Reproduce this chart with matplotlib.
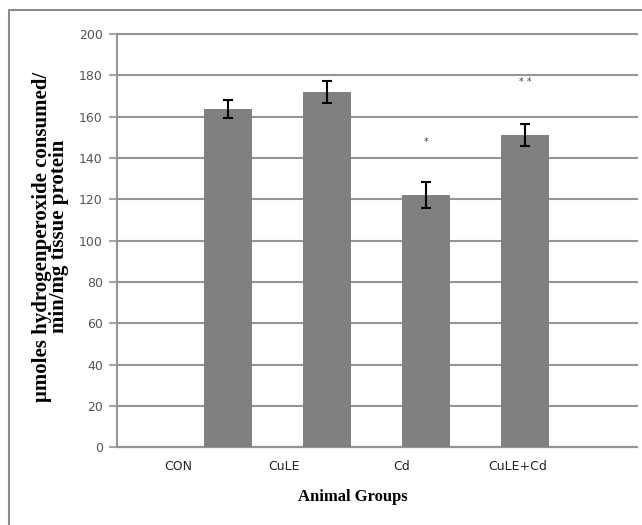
import matplotlib
matplotlib.use("Agg")
import matplotlib.pyplot as plt
from matplotlib.patches import Rectangle

# values
groups = ["CON", "CuLE", "Cd", "CuLE+Cd"]
means = [163.8, 171.9, 122.2, 151.2]
errs = [4.4, 5.2, 6.2, 5.3]
marks = ["*", "* *"]
mark_heights = [148, 177]
yticks = list(range(0, 201, 20))

# the bars and the category labels are not aligned in the original
bar_pos = [1, 2, 3, 4]
label_pos = [0.495, 1.566, 2.758, 3.93]
mark_pos = [3, 4]

fig = plt.figure(figsize=(6.42, 5.25), dpi=100)
ax = fig.add_axes([0.1818, 0.148, 0.8102, 0.787])

ax.bar(bar_pos, means, width=0.49, color="#808080", zorder=3)
ax.errorbar(bar_pos, means, yerr=errs, fmt="none", ecolor="black",
            elinewidth=1.5, capsize=3.5, capthick=1.5, zorder=4)

for x, y, m in zip(mark_pos, mark_heights, marks):
    ax.text(x, y, m, ha="center", va="center", fontsize=7, color="#444444")

ax.set_xlim(-0.124, 5.13)
ax.set_ylim(0, 200)
ax.set_yticks(yticks)
ax.set_xticks(label_pos)
ax.set_xticklabels(groups)
ax.grid(axis="y", color="#959595", linewidth=1.5, zorder=0)
for gl in ax.get_ygridlines():
    gl.set_clip_on(False)

for s in ["top", "right"]:
    ax.spines[s].set_visible(False)
for s in ["left", "bottom"]:
    ax.spines[s].set_color("#959595")
    ax.spines[s].set_linewidth(1.5)

ax.tick_params(axis="y", length=6, width=1.2, color="#959595",
               labelsize=9, labelcolor="#555555", pad=4)
ax.tick_params(axis="x", length=0, labelsize=9, labelcolor="#222222", pad=9)
for lab in ax.get_xticklabels() + ax.get_yticklabels():
    lab.set_fontfamily("Liberation Sans Narrow")

ax.set_xlabel("Animal Groups", fontfamily="Liberation Serif",
              fontweight="bold", fontsize=12)
ax.xaxis.set_label_coords(0.454, -0.1)
ax.set_ylabel("\u03bcmoles hydrogenperoxide consumed/\nmin/mg tissue protein",
              fontfamily="Liberation Serif", fontweight="bold", fontsize=15,
              linespacing=0.8)
ax.yaxis.set_label_coords(-0.092, 0.51)

# chart area border (only top and left show in the crop)
fig.patches.append(Rectangle((9 / 642, -0.05), 1.1, 1 - 10 / 525 + 0.05,
                             transform=fig.transFigure, fill=False,
                             edgecolor="#8c8c8c", linewidth=1.5))

fig.savefig("out.png", dpi=100)
